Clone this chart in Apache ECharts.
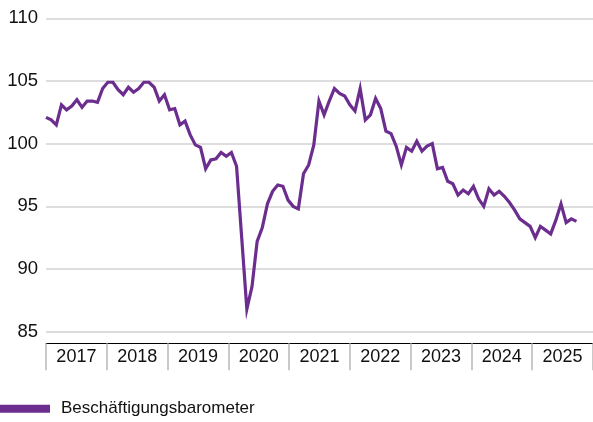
<!DOCTYPE html>
<html>
<head>
<meta charset="utf-8">
<script src="https://cdn.jsdelivr.net/npm/echarts@6/dist/echarts.min.js"></script>
<style>
  html, body { margin: 0; padding: 0; background: #fff; }
  #chart { width: 593px; height: 422px; }
</style>
</head>
<body>
<div id="chart"></div>
<script>
// Monthly index values, one array per year (2025 runs through August)
const values2017 = [102.1, 101.9, 101.5, 103.1, 102.7, 103.0, 103.5, 102.9, 103.4, 103.4, 103.3, 104.4];
const values2018 = [104.9, 104.9, 104.3, 103.9, 104.5, 104.1, 104.4, 104.9, 104.9, 104.5, 103.4, 103.9];
const values2019 = [102.7, 102.8, 101.5, 101.8, 100.7, 99.9, 99.7, 98.0, 98.7, 98.8, 99.3, 99.0];
const values2020 = [99.3, 98.2, 92.5, 86.8, 88.6, 92.2, 93.3, 95.2, 96.2, 96.7, 96.6, 95.5];
const values2021 = [95.0, 94.8, 97.6, 98.3, 99.9, 103.4, 102.3, 103.4, 104.4, 104.0, 103.8, 103.1];
const values2022 = [102.6, 104.4, 101.9, 102.3, 103.6, 102.8, 101.0, 100.8, 99.8, 98.3, 99.7, 99.4];
const values2023 = [100.2, 99.4, 99.8, 100.0, 98.0, 98.1, 97.0, 96.8, 95.9, 96.3, 96.0, 96.6];
const values2024 = [95.6, 95.0, 96.4, 95.9, 96.2, 95.8, 95.3, 94.7, 94.0, 93.7, 93.4, 92.5];
const values2025 = [93.4, 93.1, 92.8, 93.9, 95.2, 93.7, 94.0, 93.8];

const years = ['2017', '2018', '2019', '2020', '2021', '2022', '2023', '2024', '2025'];
const yTicks = [85, 90, 95, 100, 105, 110];
const seriesName = 'Beschäftigungsbarometer';

const barometer = [].concat(values2017, values2018, values2019, values2020, values2021,
  values2022, values2023, values2024, values2025);

// month categories matching the series length
const months = [];
years.forEach(y => {
  for (let m = 1; m <= 12; m++) months.push((m < 10 ? '0' + m : '' + m) + '.' + y);
});
months.length = barometer.length;

const FONT = "'Liberation Sans', Arial, sans-serif";
const PURPLE = '#6b2d8e';

const chart = echarts.init(document.getElementById('chart'), null, { renderer: 'canvas' });

const gridTop = 18.3;
const gridHeight = 313.4;
const monthStep = 5.15;

chart.setOption({
  animation: false,
  backgroundColor: '#ffffff',
  textStyle: { fontFamily: FONT },
  grid: [
    // year axis, value labels and horizontal grid lines
    { left: 46, top: gridTop, width: 550.4, height: gridHeight },
    // monthly line
    { left: 46, top: gridTop, width: monthStep * (barometer.length - 1), height: gridHeight }
  ],
  xAxis: [
    {
      gridIndex: 0,
      type: 'category',
      data: years,
      boundaryGap: true,
      offset: 11.6,
      axisLine: { show: true, lineStyle: { color: '#000000', width: 1 } },
      axisTick: { show: true, length: 27, lineStyle: { color: '#b8b8b8', width: 1.5 } },
      axisLabel: { fontSize: 18, color: '#111111', margin: 5, fontFamily: FONT },
      splitLine: { show: false }
    },
    {
      gridIndex: 1,
      type: 'category',
      data: months,
      boundaryGap: false,
      show: false
    }
  ],
  yAxis: [
    {
      gridIndex: 0,
      type: 'value',
      min: yTicks[0],
      max: yTicks[yTicks.length - 1],
      interval: 5,
      axisLine: { show: false },
      axisTick: { show: false },
      axisLabel: { fontSize: 18.5, color: '#111111', margin: 8, fontFamily: FONT },
      splitLine: { show: true, lineStyle: { color: '#d2d2d2', width: 1.5 } }
    },
    {
      gridIndex: 1,
      type: 'value',
      min: yTicks[0],
      max: yTicks[yTicks.length - 1],
      show: false,
      splitLine: { show: false }
    }
  ],
  legend: {
    show: true,
    data: [seriesName],
    left: 0,
    top: 400.3,
    padding: 0,
    icon: 'rect',
    itemWidth: 50,
    itemHeight: 8,
    itemGap: 0,
    textStyle: { fontSize: 17, color: '#111111', fontFamily: FONT, padding: [0, 0, 0, 6] }
  },
  series: [
    {
      name: seriesName,
      type: 'line',
      xAxisIndex: 1,
      yAxisIndex: 1,
      data: barometer,
      showSymbol: false,
      symbol: 'none',
      clip: false,
      color: PURPLE,
      lineStyle: { color: PURPLE, width: 3.2, join: 'miter' }
    }
  ]
});
</script>
</body>
</html>
